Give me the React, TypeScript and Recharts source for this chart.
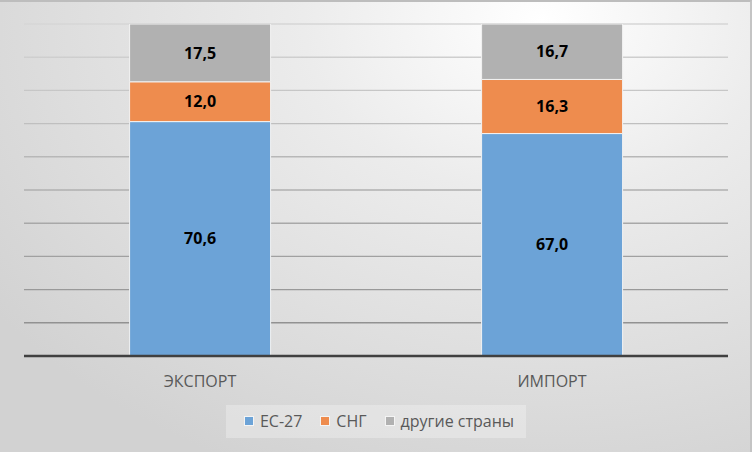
import React from "react";
import { BarChart, Bar, XAxis, YAxis, CartesianGrid, LabelList, Legend } from "recharts";

const categories = ["ЭКСПОРТ", "ИМПОРТ"];
const eu27 = [70.6, 67.0];
const cis = [12.0, 16.3];
const others = [17.5, 16.7];
const seriesNames = ["ЕС-27", "СНГ", "другие страны"];
const yTicks = [0, 10, 20, 30, 40, 50, 60, 70, 80, 90, 100];

const data = categories.map((c, i) => ({ name: c, eu: eu27[i], cis: cis[i], other: others[i] }));

const colors = ["#6ca3d7", "#ee8c4e", "#b1b1b1"];
const FONT = "'Open Sans', sans-serif";

const fmt = (v: any) => Number(v).toFixed(1).replace(".", ",");

const LegendBox = () => (
  <div style={{ display: "flex", justifyContent: "center" }}>
    <div
      style={{
        display: "flex",
        alignItems: "center",
        background: "rgba(255,255,255,0.28)",
        padding: "5px 12px 6px 18px",
        fontFamily: FONT,
        fontSize: 16,
        color: "#595959",
        gap: 18,
      }}
    >
      {seriesNames.map((n, i) => (
        <div key={n} style={{ display: "flex", alignItems: "center" }}>
          <span
            style={{
              width: 8,
              height: 8,
              background: colors[i],
              border: "1px solid #f4f4f4",
              marginRight: 6,
              display: "inline-block",
            }}
          />
          <span>{n}</span>
        </div>
      ))}
    </div>
  </div>
);

export default function App() {
  return (
    <div
      style={{
        position: "absolute",
        left: 0,
        top: 0,
        width: 752,
        height: 452,
        boxSizing: "border-box",
        borderTop: "2px solid #bdbdbd",
        borderRight: "2px solid #c4c4c4",
        background: "radial-gradient(ellipse 90% 110% at 72% 4%, #ffffff 0%, #ececec 35%, #d2d2d2 100%)",
      }}
    >
      <div style={{ position: "absolute", left: 0, top: -2 }}>
        <BarChart
          width={752}
          height={452}
          data={data}
          margin={{ top: 24, right: 24, bottom: 33, left: 24 }}
          barCategoryGap="30%"
        >
          <defs>
            <linearGradient id="gridGrad" gradientUnits="userSpaceOnUse" x1="0" y1="24" x2="0" y2="355">
              <stop offset="0%" stopColor="#d6d6d6" />
              <stop offset="100%" stopColor="#8a8a8a" />
            </linearGradient>
          </defs>
          <CartesianGrid vertical={false} stroke="url(#gridGrad)" strokeWidth={1.4} />
          <YAxis hide domain={[0, 100]} ticks={yTicks} allowDataOverflow />
          <XAxis
            dataKey="name"
            axisLine={{ stroke: "#404040", strokeWidth: 2.5 }}
            tickLine={false}
            tick={{ fill: "#595959", fontSize: 16, fontFamily: FONT }}
            tickMargin={14}
          />
          <Legend content={<LegendBox />} verticalAlign="bottom" wrapperStyle={{ bottom: 14 }} />
          <Bar dataKey="eu" name={seriesNames[0]} stackId="a" fill={colors[0]} stroke="#f2f2f2" strokeWidth={1} isAnimationActive={false}>
            <LabelList dataKey="eu" position="center" formatter={fmt} fill="#000" fontWeight="bold" fontSize={16} fontFamily={FONT} />
          </Bar>
          <Bar dataKey="cis" name={seriesNames[1]} stackId="a" fill={colors[1]} stroke="#f2f2f2" strokeWidth={1} isAnimationActive={false}>
            <LabelList dataKey="cis" position="center" formatter={fmt} fill="#000" fontWeight="bold" fontSize={16} fontFamily={FONT} />
          </Bar>
          <Bar dataKey="other" name={seriesNames[2]} stackId="a" fill={colors[2]} stroke="#f2f2f2" strokeWidth={1} isAnimationActive={false}>
            <LabelList dataKey="other" position="center" formatter={fmt} fill="#000" fontWeight="bold" fontSize={16} fontFamily={FONT} />
          </Bar>
        </BarChart>
      </div>
    </div>
  );
}
